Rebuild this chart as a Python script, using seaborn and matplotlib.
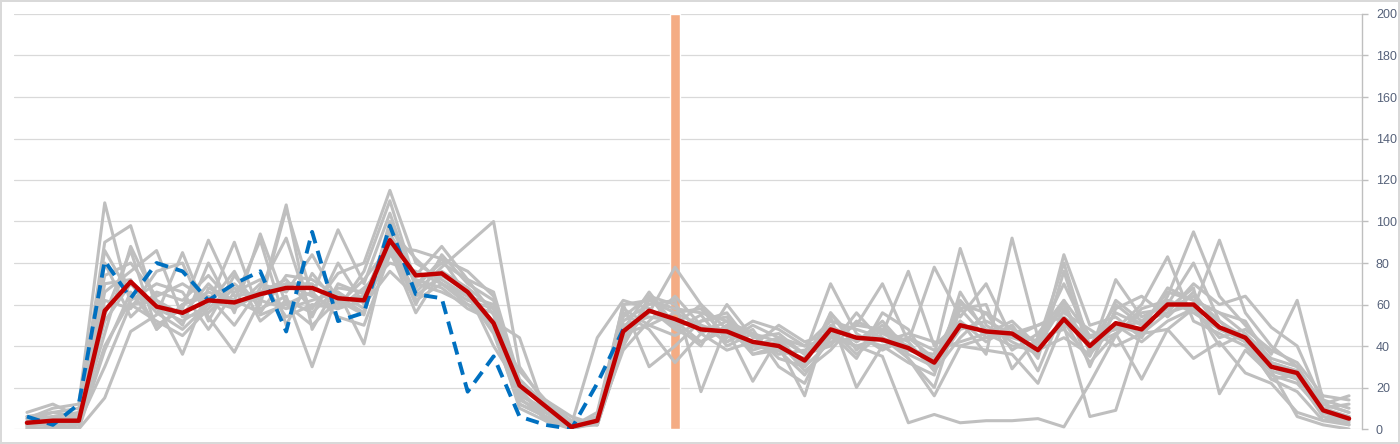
import numpy as np
import pandas as pd
import matplotlib
matplotlib.use("Agg")
import matplotlib.pyplot as plt
import seaborn as sns

# ---- data ----
x_idx = list(range(52))

avg_line = [3, 4, 4, 57, 71, 59, 56, 62, 61, 65, 68, 68, 63, 62, 91, 74, 75, 66, 51, 21,
            11, 1, 4, 47, 57, 53, 48, 47, 42, 40, 33, 48, 44, 43, 39, 32, 50, 47, 46, 38,
            53, 40, 51, 48, 60, 60, 49, 44, 30, 27, 9, 5]

blue_line = [6, 2, 12, 81, 63, 80, 76, 62, 70, 76, 47, 95, 52, 56, 98, 65, 63, 18, 35, 6,
             2, 0, 22, 48]

marker_pos = [25]
marker_height = [200]

grey_lines = [
    [5, 10, 12, 109, 60, 62, 55, 70, 58, 66, 72, 58, 75, 80, 115, 80, 72, 64, 46, 12, 6, 2, 6, 60, 62, 56,
     50, 46, 40, 44, 30, 56, 42, 50, 36, 30, 62, 48, 44, 40, 60, 38, 56, 50, 58, 64, 52, 44, 32, 28, 10, 6],
    [2, 6, 8, 90, 98, 58, 52, 60, 90, 55, 60, 50, 62, 55, 100, 70, 80, 72, 55, 18, 8, 1, 4, 52, 60, 62,
     18, 50, 45, 36, 38, 44, 50, 70, 42, 28, 44, 56, 38, 46, 62, 45, 48, 60, 83, 52, 46, 40, 28, 24, 8, 4],
    [0, 0, 2, 55, 86, 48, 60, 66, 62, 91, 50, 75, 60, 72, 88, 66, 78, 89, 100, 30, 12, 3, 2, 40, 64, 48,
     55, 40, 46, 42, 28, 38, 52, 46, 76, 40, 52, 36, 92, 44, 48, 35, 62, 52, 56, 60, 40, 46, 34, 30, 12, 8],
    [1, 4, 3, 30, 60, 52, 45, 58, 70, 60, 106, 64, 58, 68, 80, 76, 70, 62, 58, 15, 5, 0, 6, 58, 50, 45,
     52, 56, 40, 38, 34, 46, 40, 35, 3, 7, 3, 4, 4, 5, 1, 22, 45, 58, 62, 56, 48, 42, 30, 26, 6, 2],
    [6, 3, 0, 15, 47, 55, 85, 54, 37, 62, 108, 48, 70, 65, 90, 60, 84, 70, 62, 22, 10, 2, 3, 44, 56, 78,
     60, 48, 23, 44, 40, 52, 48, 44, 38, 36, 87, 50, 42, 36, 84, 50, 54, 44, 64, 95, 64, 50, 36, 62, 14, 10],
    [3, 5, 6, 62, 58, 76, 80, 52, 74, 58, 64, 30, 66, 58, 86, 56, 76, 68, 48, 10, 4, 0, 5, 56, 48, 32,
     46, 52, 36, 40, 16, 56, 38, 48, 34, 20, 58, 44, 50, 28, 58, 40, 46, 56, 58, 68, 17, 38, 26, 22, 8, 3],
    [4, 8, 6, 70, 72, 48, 60, 64, 50, 68, 92, 54, 80, 60, 76, 64, 74, 66, 40, 20, 14, 4, 2, 48, 66, 50,
     40, 60, 44, 46, 36, 70, 46, 38, 44, 34, 52, 42, 50, 34, 76, 36, 50, 42, 52, 58, 91, 56, 40, 30, 10, 12],
    [2, 2, 4, 46, 88, 62, 50, 80, 56, 94, 60, 66, 54, 50, 84, 72, 68, 58, 52, 44, 8, 2, 44, 62, 58, 50,
     60, 42, 48, 30, 22, 48, 36, 46, 40, 30, 48, 52, 46, 42, 50, 6, 9, 48, 68, 62, 56, 46, 30, 24, 6, 4],
    [5, 6, 4, 80, 54, 66, 62, 74, 60, 64, 70, 70, 58, 76, 110, 70, 66, 60, 50, 28, 14, 6, 2, 40, 62, 58,
     56, 52, 46, 34, 30, 42, 44, 40, 32, 26, 66, 46, 52, 40, 62, 30, 58, 64, 54, 66, 48, 44, 28, 6, 2, 0],
    [0, 1, 2, 40, 62, 70, 66, 48, 66, 72, 54, 60, 58, 62, 96, 82, 70, 60, 56, 18, 6, 0, 3, 50, 54, 52,
     42, 48, 40, 50, 42, 46, 34, 56, 48, 28, 58, 60, 29, 44, 70, 44, 48, 52, 62, 58, 52, 42, 24, 18, 4, 6],
    [8, 12, 6, 86, 64, 60, 36, 68, 62, 56, 74, 72, 64, 56, 94, 74, 88, 72, 66, 24, 12, 4, 4, 38, 52, 64,
     50, 42, 50, 44, 36, 40, 56, 42, 46, 42, 40, 44, 46, 50, 56, 48, 40, 46, 48, 58, 44, 48, 38, 32, 16, 14],
    [1, 0, 0, 38, 66, 50, 58, 91, 64, 66, 70, 64, 96, 70, 104, 68, 82, 64, 50, 14, 8, 1, 8, 60, 30, 40,
     52, 54, 38, 42, 32, 50, 42, 52, 38, 34, 60, 56, 48, 42, 80, 40, 60, 50, 66, 62, 56, 52, 32, 28, 12, 8],
    [3, 4, 2, 66, 76, 86, 54, 56, 68, 62, 58, 62, 66, 41, 92, 64, 74, 68, 58, 12, 6, 2, 6, 54, 64, 60,
     46, 38, 42, 38, 34, 54, 20, 40, 44, 38, 42, 46, 40, 38, 44, 36, 72, 54, 60, 80, 52, 42, 24, 26, 8, 6],
    [6, 8, 10, 74, 80, 64, 70, 62, 58, 70, 66, 84, 62, 64, 88, 86, 82, 76, 64, 16, 10, 3, 4, 46, 50, 56,
     58, 44, 52, 48, 40, 44, 50, 48, 42, 78, 54, 70, 44, 50, 54, 44, 50, 46, 56, 70, 60, 64, 49, 40, 12, 16],
    [2, 3, 5, 52, 70, 56, 48, 60, 76, 52, 62, 56, 68, 66, 86, 62, 70, 64, 60, 20, 4, 1, 2, 42, 58, 48,
     42, 50, 36, 38, 26, 44, 40, 44, 34, 16, 40, 38, 36, 22, 52, 32, 46, 24, 48, 34, 42, 27, 22, 8, 4, 2],
]

y_ticks = list(range(0, 201, 20))

GREY, RED, BLUE, ORANGE = "#BFBFBF", "#C00000", "#0070C0", "#F4AC84"

sns.set_theme(style="white")
plt.rcParams["font.family"] = ["Liberation Sans", "DejaVu Sans"]

fig = plt.figure(figsize=(14, 4.44), dpi=100)
fig.patch.set_edgecolor("#D9D9D9")
fig.patch.set_linewidth(1.5)
ax = fig.add_axes([14 / 1400, 15 / 444, 1348 / 1400, 415 / 444])

# marker bar behind everything
ax.bar(marker_pos, marker_height, width=0.42, color=ORANGE, zorder=1)

grey_df = pd.DataFrame(
    [(i, x, v) for i, s in enumerate(grey_lines) for x, v in zip(x_idx, s)],
    columns=["run", "x", "value"])
sns.lineplot(data=grey_df, x="x", y="value", units="run", estimator=None,
             color=GREY, lw=2.2, ax=ax, zorder=2)

sns.lineplot(x=x_idx[:len(blue_line)], y=blue_line, color=BLUE, lw=2.8,
             ax=ax, zorder=3).lines[-1].set_dashes((3.4, 2.0))
sns.lineplot(x=x_idx, y=avg_line, color=RED, lw=3.2, ax=ax, zorder=4)

ax.set_xlim(-0.5, 51.5)
ax.set_ylim(0, 200)
ax.set_xticks([])
ax.set_yticks(y_ticks)
ax.yaxis.tick_right()
ax.tick_params(axis="y", length=4, width=1, color="#BFBFBF", pad=6,
               labelsize=9, labelcolor="#56627A", right=True, left=False)
ax.grid(axis="y", color="#D9D9D9", lw=0.9, zorder=0)
ax.set_axisbelow(True)
for side in ["top", "left", "bottom"]:
    ax.spines[side].set_visible(False)
ax.spines["right"].set_color("#BFBFBF")
ax.spines["right"].set_linewidth(1)
ax.set_xlabel("")
ax.set_ylabel("")

fig.savefig("out.png", dpi=100)
